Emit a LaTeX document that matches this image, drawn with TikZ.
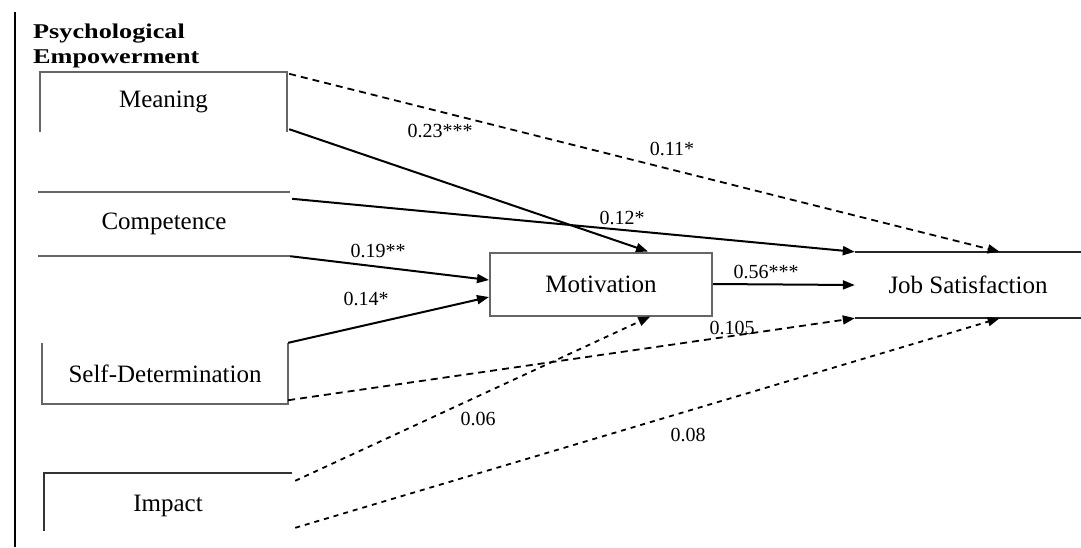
\documentclass[tikz,border=0pt]{standalone}
\usepackage{fontspec}
\setmainfont{Liberation Serif}
\usetikzlibrary{arrows.meta,calc}
\tikzset{
  boxlbl/.style={inner sep=0pt, font=\fontsize{25}{30}\selectfont},
  edgelbl/.style={inner sep=0pt, font=\fontsize{20}{24}\selectfont},
  edgeline/.style={draw=black, line width=2pt},
  boxedge/.style={draw=black!60, line width=2pt},
  solidarrow/.style={edgeline, -{Triangle[length=12pt,width=9pt]}},
  dasharrow/.style={edgeline, line width=1.8pt, dash pattern=on 7pt off 5pt, -{Triangle[length=12pt,width=9pt]}},
  dotarrow/.style={edgeline, line width=1.8pt, dash pattern=on 5pt off 5pt, -{Triangle[length=12pt,width=9pt]}}
}
\begin{document}
\begin{tikzpicture}[x=1pt,y=-1pt]
\useasboundingbox (0,0) rectangle (1081,547);
\fill[white] (0,0) rectangle (1081,547);
% left rule
\coordinate (rtop) at (15,12);
\coordinate (rbot) at (15,547);
\draw[black, line width=2.2pt] (rtop) -- (rbot);
% title
\node[anchor=base west, inner sep=0pt, font=\bfseries\fontsize{21}{24}\selectfont] (t1) at (33,38) {\scalebox{1.25}[1]{Psychological}};
\node[anchor=base west, inner sep=0pt, font=\bfseries\fontsize{21}{24}\selectfont] (t2) at (33,63) {\scalebox{1.25}[1]{Empowerment}};
% boxes (as nodes, partial outlines drawn below)
\node[boxlbl, minimum width=247pt, minimum height=60pt] (mean) at (163.5,102) {Meaning};
\node[boxlbl, minimum width=252pt, minimum height=64pt] (comp) at (164,224) {Competence};
\node[boxlbl, minimum width=246pt, minimum height=61pt] (sd) at (165,373.5) {Self-Determination};
\node[boxlbl, minimum width=248pt, minimum height=66pt] (imp) at (168,506) {Impact};
\node[boxlbl, minimum width=222pt, minimum height=63pt, boxedge] (mot) at (601,284) {Motivation};
\node[boxlbl, minimum width=226pt, minimum height=66pt] (js) at (968,285) {Job Satisfaction};
% partial outlines
\draw[boxedge] (mean.south west) -- (mean.north west) -- (mean.north east) -- (mean.south east);
\draw[boxedge] (comp.north west) -- (comp.north east);
\draw[boxedge] (comp.south west) -- (comp.south east);
\draw[boxedge] (sd.north west) -- (sd.south west) -- (sd.south east) -- (sd.north east);
\draw[boxedge, draw=black!80] ($(imp.south west)+(0,-8)$) -- (imp.north west) -- (imp.north east);
\draw[boxedge, draw=black!85] (js.north west) -- (js.north east);
\draw[boxedge, draw=black!85] (js.south west) -- (js.south east);
% connectors
\draw[dasharrow] ($(mean.north east)+(2,2)$) -- ($(js.north west)!0.64!(js.north east)$);
\draw[solidarrow] ($(mean.south east)+(2,-3)$) -- ($(mot.north west)!0.71!(mot.north east)$);
\draw[solidarrow] ($(comp.north east)+(2,7)$) -- (js.north west);
\draw[solidarrow] (comp.south east) -- ($(mot.west)+(0,-4)$);
\draw[solidarrow] (sd.north east) -- ($(mot.west)+(0,13)$);
\draw[dasharrow] ($(sd.south east)+(0,-4)$) -- (js.south west);
\draw[dotarrow] ($(imp.north east)+(3,8)$) -- ($(mot.south west)!0.72!(mot.south east)$);
\draw[dotarrow] ($(imp.north east)+(3,55)$) -- ($(js.south west)!0.64!(js.south east)$);
\draw[solidarrow] (mot.east) -- (js.west);
% labels
\node[edgelbl] (l1) at (672,149) {0.11*};
\node[edgelbl] (l2) at (440,131) {0.23***};
\node[edgelbl] (l3) at (622,218) {0.12*};
\node[edgelbl] (l4) at (378,251) {0.19**};
\node[edgelbl] (l5) at (366,299) {0.14*};
\node[edgelbl] (l6) at (766,272) {0.56***};
\node[edgelbl] (l7) at (732,328) {0.105};
\node[edgelbl] (l8) at (478,419) {0.06};
\node[edgelbl] (l9) at (688,435) {0.08};
\end{tikzpicture}
\end{document}
